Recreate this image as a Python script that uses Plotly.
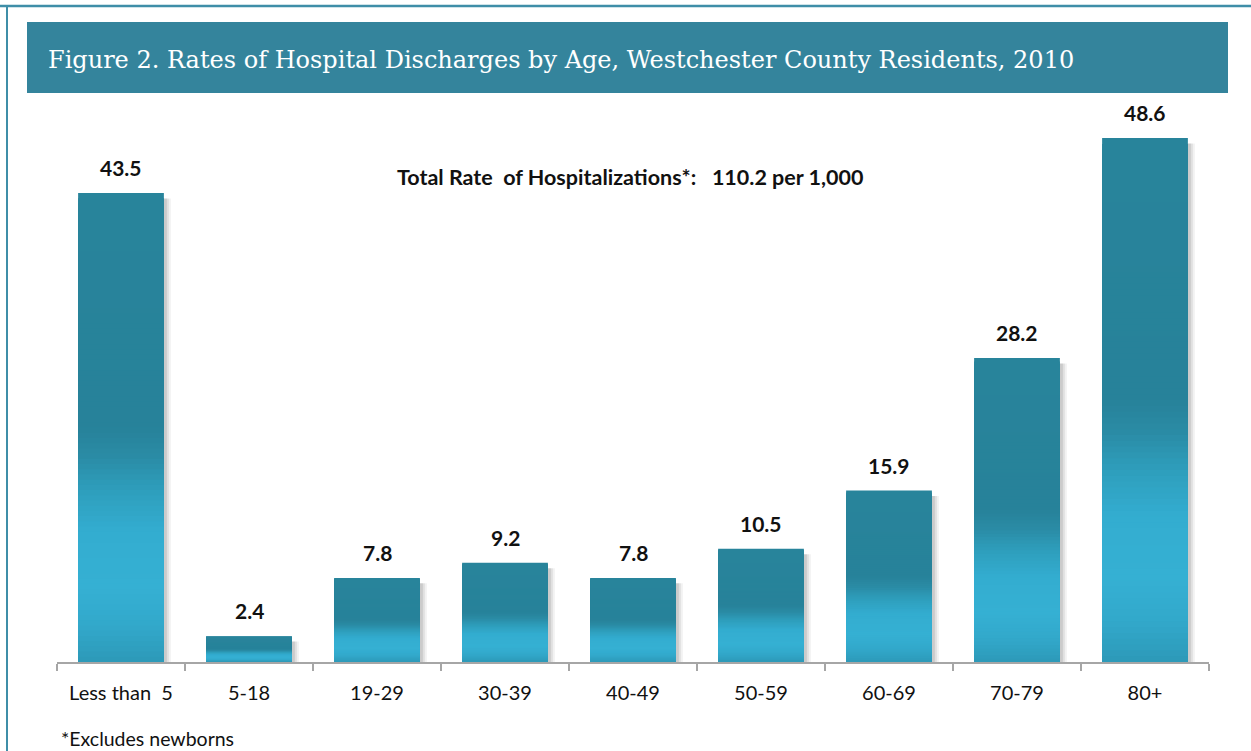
import plotly.graph_objects as go
import numpy as np

categories = ["Less than 5", "5-18", "19-29", "30-39", "40-49", "50-59", "60-69", "70-79", "80+"]
rates = [43.5, 2.4, 7.8, 9.2, 7.8, 10.5, 15.9, 28.2, 48.6]
value_labels = ["43.5", "2.4", "7.8", "9.2", "7.8", "10.5", "15.9", "28.2", "48.6"]
tick_labels = ["Less than  5", "5-18", "19-29", "30-39", "40-49", "50-59", "60-69", "70-79", "80+"]
title_text = "Figure 2. Rates of Hospital Discharges by Age, Westchester County Residents, 2010"
total_text = "Total Rate  of Hospitalizations*:   110.2 per 1,000"
footnote_text = "*Excludes newborns"

W, H = 1251, 751
ML, MR, MB, MT = 57, 42, 89, 123
PW, PH = W - ML - MR, H - MT - MB
YMAX = 50.0


def px(x):
    return (x - ML) / PW


def py(y):
    return (H - MB - y) / PH


def hex2rgb(h):
    h = h.lstrip("#")
    return np.array([int(h[i:i + 2], 16) for i in (0, 2, 4)], dtype=float)


stops_t = [0.0, 0.08, 0.16, 0.28, 0.37, 0.44, 0.5, 1.0]
stops_c = ["#2D99B8", "#32A9CB", "#35B0D3", "#33ADD0", "#2E9DBB", "#2A8BA5", "#27829A", "#28849B"]
stops_rgb = np.array([hex2rgb(c) for c in stops_c])


def grad(t):
    r = [np.interp(t, stops_t, stops_rgb[:, i]) for i in range(3)]
    return "rgb(%d,%d,%d)" % tuple(int(round(v)) for v in r)


vals = np.array(rates)
BW = 0.67
fig = go.Figure()

# shadow layers
for dx, a in [(7, 0.05), (5, 0.07), (3, 0.09)]:
    fig.add_trace(go.Bar(
        x=categories, y=np.maximum(vals - 0.5, 0), width=BW,
        offset=-BW / 2 + dx / 128.0,
        marker=dict(color="rgba(0,0,0,%.2f)" % a, line=dict(width=0)),
        hoverinfo="skip", showlegend=False))

# gradient bars (overlaid steps)
N = 90
for k in range(N, 0, -1):
    f = k / N
    fig.add_trace(go.Bar(
        x=categories, y=vals * f, width=BW,
        marker=dict(color=grad(f - 0.5 / N), line=dict(width=0)),
        hoverinfo="skip" if k < N else "x+y", showlegend=False))

for c, v, lab in zip(categories, rates, value_labels):
    fig.add_annotation(x=c, y=v, text="<b>%s</b>" % lab, showarrow=False,
                       yanchor="bottom", yshift=11,
                       font=dict(family="Lato", size=21, color="#111111"))

shapes = [
    dict(type="rect", xref="paper", yref="paper", x0=px(27), x1=px(1228), y0=py(93), y1=py(22),
         fillcolor="#34849C", line=dict(width=0), layer="below"),
    dict(type="line", xref="paper", yref="paper", x0=px(0), x1=px(W), y0=py(6), y1=py(6),
         line=dict(color="#3F8EA8", width=2.5)),
    dict(type="line", xref="paper", yref="paper", x0=px(7), x1=px(7), y0=py(6), y1=py(H),
         line=dict(color="#3F8EA8", width=2)),
]

fig.add_annotation(xref="paper", yref="paper", x=px(46), y=py(60), xanchor="left", yanchor="middle",
                   text=title_text, showarrow=False,
                   font=dict(family="DejaVu Serif", size=24, color="white"))
fig.add_annotation(xref="paper", yref="paper", x=px(630), y=py(177), xanchor="center", yanchor="middle",
                   text="<b>%s</b>" % total_text, showarrow=False,
                   font=dict(family="Lato", size=21.5, color="#111111"))
fig.add_annotation(xref="paper", yref="paper", x=px(59), y=py(738), xanchor="left", yanchor="middle",
                   text=footnote_text, showarrow=False,
                   font=dict(family="Lato", size=19.5, color="#111111"))

fig.update_layout(
    width=W, height=H,
    margin=dict(l=ML, r=MR, t=MT, b=MB, pad=0),
    paper_bgcolor="white", plot_bgcolor="white",
    barmode="overlay",
    shapes=shapes, showlegend=False,
    xaxis=dict(range=[-0.5, 8.5], showline=True, linecolor="#A6A6A6", linewidth=1.5,
               ticks="outside", tickson="boundaries", ticklen=7, tickcolor="#A6A6A6", tickwidth=1.5,
               showgrid=False, zeroline=False, ticklabelstandoff=12,
               tickmode="array", tickvals=categories, ticktext=tick_labels,
               tickfont=dict(family="Lato", size=20, color="#111111")),
    yaxis=dict(range=[0, YMAX], visible=False, showgrid=False, zeroline=False),
)

fig.write_html("out.html", config={"displayModeBar": False},
               post_script="document.body.style.margin='0';document.body.style.overflow='hidden';")
